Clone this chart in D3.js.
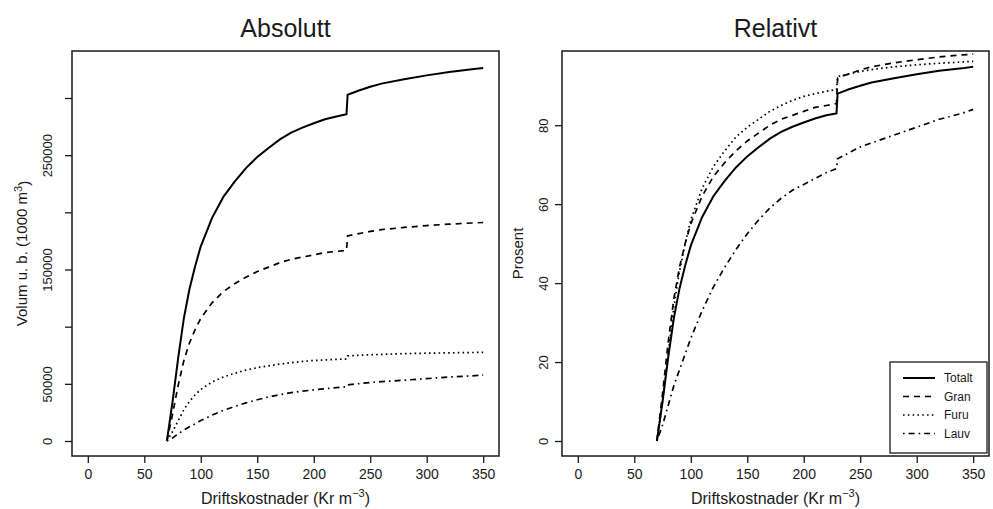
<!DOCTYPE html>
<html>
<head>
<meta charset="utf-8">
<script src="https://cdn.jsdelivr.net/npm/d3@7"></script>
<style>
  body { margin: 0; background: #fff; }
  text { font-family: "Liberation Sans", Arial, sans-serif; fill: #1a1a1a; }
</style>
</head>
<body>
<div id="chart"></div>
<script>
var costs = [70, 75, 80, 85, 90, 95, 100, 110, 120, 130, 140, 150, 160, 170, 180,
  190, 200, 210, 220, 229, 230, 240, 250, 260, 280, 300, 320, 340, 350];

// Absolute volume (1000 m3)
var totaltAbs = [0, 34200, 72700, 107200, 132900, 152900, 170300, 195200, 213500, 226900,
  238700, 248400, 256300, 263800, 269700, 274100, 277900, 281400, 283900, 285800,
  302900, 306600, 309900, 312600, 316400, 319800, 322800, 325100, 326300];
var granAbs = [0, 23400, 48800, 70200, 85800, 97500, 107300, 120900, 130700, 137500,
  143300, 148200, 152100, 156000, 158900, 160900, 162800, 164800, 165800, 166700,
  179400, 181400, 183300, 184900, 186800, 188400, 189700, 190700, 191100];
var furuAbs = [0, 8100, 17700, 27400, 34700, 40300, 45100, 51600, 56000, 59200,
  62100, 64100, 65700, 67300, 68500, 69600, 70400, 70900, 71400, 71700,
  74400, 75000, 75400, 75800, 76400, 76800, 77100, 77400, 77500];
var lauvAbs = [0, 2700, 6200, 9600, 12400, 15100, 17900, 22700, 26800, 30200,
  33300, 36100, 38500, 40500, 42300, 43600, 44700, 45700, 46700, 47400,
  49100, 50200, 51200, 51900, 53200, 54600, 56000, 57000, 57700];

// Relative volume (percent)
var totaltPct = [0, 9.9, 21.1, 31.1, 38.6, 44.4, 49.5, 56.7, 62.0, 65.9, 69.3, 72.1, 74.4,
  76.6, 78.3, 79.6, 80.7, 81.7, 82.5, 83.0, 88.0, 89.1, 90.0, 90.8, 91.9, 92.9, 93.8, 94.4, 94.8];
var granPct = [0, 12, 25, 36, 44, 50, 55, 62, 67, 70.5, 73.5, 76, 78, 80, 81.5, 82.5,
  83.5, 84.5, 85, 85.5, 92, 93, 94, 94.8, 95.8, 96.6, 97.3, 97.8, 98];
var furuPct = [0, 10, 22, 34, 43, 50, 56, 64, 69.5, 73.5, 77, 79.5, 81.5, 83.5, 85, 86.3,
  87.3, 88, 88.6, 89, 92.3, 93, 93.6, 94.1, 94.8, 95.3, 95.7, 96, 96.2];
var lauvPct = [0, 4, 9, 14, 18, 22, 26, 33, 39, 44, 48.5, 52.5, 56, 59, 61.5, 63.5,
  65, 66.5, 68, 69, 71.5, 73, 74.5, 75.5, 77.5, 79.5, 81.5, 83, 84];

var seriesNames = ["Totalt", "Gran", "Furu", "Lauv"];
var xTicks = [0, 50, 100, 150, 200, 250, 300, 350];
var yTicksAbs = [0, 50000, 100000, 150000, 200000, 250000, 300000];
var yLabelsAbs = [0, 50000, 150000, 250000];
var yTicksPct = [0, 20, 40, 60, 80];

// Line styles (R lty 1..4)
var dashes = [null, "6,5", "1.6,3.2", "1.6,4,6,4"];
var widths = [2, 1.7, 1.7, 1.7];

var svgWidth = 993;
var svgHeight = 509;

var svg = d3.select("#chart")
  .append("svg")
  .attr("width", svgWidth)
  .attr("height", svgHeight);

function drawPanel(p) {
  var x = d3.scaleLinear().domain([-14, 364]).range([p.left, p.right]);
  var y = d3.scaleLinear().domain(p.yDomain).range([456, 51]);

  var clipId = "clip-" + p.id;
  svg.append("clipPath").attr("id", clipId)
    .append("rect")
    .attr("x", p.left).attr("y", 51)
    .attr("width", p.right - p.left).attr("height", 405);

  // lines
  var line = d3.line()
    .x(function(d, i) { return x(costs[i]); })
    .y(function(d) { return y(d); });

  p.series.forEach(function(vals, k) {
    svg.append("path")
      .datum(vals)
      .attr("d", line)
      .attr("clip-path", "url(#" + clipId + ")")
      .attr("fill", "none")
      .attr("stroke", "#000")
      .attr("stroke-width", widths[k])
      .attr("stroke-dasharray", dashes[k]);
  });

  // frame
  svg.append("rect")
    .attr("x", p.left).attr("y", 51)
    .attr("width", p.right - p.left).attr("height", 405)
    .attr("fill", "none")
    .attr("stroke", "#1a1a1a")
    .attr("stroke-width", 1.5);

  // x axis
  var xAxis = svg.append("g")
    .attr("transform", "translate(0,456)")
    .call(d3.axisBottom(x).tickValues(xTicks).tickSize(7).tickSizeOuter(0).tickPadding(6));
  xAxis.select(".domain").remove();
  xAxis.selectAll("line").attr("stroke", "#1a1a1a").attr("stroke-width", 1.3);
  xAxis.selectAll("text").attr("font-size", 14).style("font-family", "Liberation Sans, Arial, sans-serif").attr("fill", "#1a1a1a");

  // y axis, labels parallel to the axis
  var yAxis = svg.append("g")
    .attr("transform", "translate(" + p.left + ",0)")
    .call(d3.axisLeft(y).tickValues(p.yTicks).tickSize(7).tickSizeOuter(0)
      .tickFormat(function(d) { return p.yLabels.indexOf(d) >= 0 ? String(d) : ""; }));
  yAxis.select(".domain").remove();
  yAxis.selectAll("line").attr("stroke", "#1a1a1a").attr("stroke-width", 1.3);
  yAxis.selectAll("text")
    .attr("x", null).attr("dy", "0.35em")
    .attr("text-anchor", "middle")
    .attr("transform", "translate(" + p.yLabelOffset + ",0) rotate(-90)")
    .attr("font-size", 13)
    .style("font-family", "Liberation Sans, Arial, sans-serif")
    .attr("fill", "#1a1a1a");

  var cx = (p.left + p.right) / 2;

  // title
  svg.append("text")
    .attr("x", cx).attr("y", 37)
    .attr("text-anchor", "middle")
    .attr("font-size", 25)
    .text(p.title);

  // x label
  var xl = svg.append("text")
    .attr("x", cx).attr("y", 504)
    .attr("text-anchor", "middle")
    .attr("font-size", 16);
  xl.append("tspan").text("Driftskostnader (Kr m");
  xl.append("tspan").attr("dy", -7).attr("font-size", 11).text("\u22123");
  xl.append("tspan").attr("dy", 7).text(")");

  // y label
  var yl = svg.append("text")
    .attr("transform", "translate(" + p.yTitleX + ",253.5) rotate(-90)")
    .attr("dy", "0.35em")
    .attr("text-anchor", "middle")
    .attr("font-size", 15);
  yl.append("tspan").text(p.yTitle);
  if (p.yTitleSup) {
    yl.append("tspan").attr("dy", "-0.45em").attr("font-size", 11).text(p.yTitleSup);
    yl.append("tspan").attr("dy", "0.45em").text(")");
  }
}

drawPanel({
  id: "abs", left: 72, right: 499,
  yDomain: [-13120, 341120],
  yTicks: yTicksAbs, yLabels: yLabelsAbs, yLabelOffset: -25,
  series: [totaltAbs, granAbs, furuAbs, lauvAbs],
  title: "Absolutt",
  yTitle: "Volum u. b. (1000 m", yTitleSup: "3", yTitleX: 22
});

drawPanel({
  id: "rel", left: 562, right: 989,
  yDomain: [-3.8, 98.8],
  yTicks: yTicksPct, yLabels: yTicksPct, yLabelOffset: -19,
  series: [totaltPct, granPct, furuPct, lauvPct],
  title: "Relativt",
  yTitle: "Prosent", yTitleSup: null, yTitleX: 518
});

// Legend in the lower right corner of the relative panel
var legend = svg.append("g");
legend.append("rect")
  .attr("x", 890).attr("y", 362)
  .attr("width", 97).attr("height", 91)
  .attr("fill", "#fff")
  .attr("stroke", "#1a1a1a")
  .attr("stroke-width", 1.3);

seriesNames.forEach(function(name, k) {
  var ly = 378 + k * 18.5;
  legend.append("line")
    .attr("x1", 903).attr("x2", 935)
    .attr("y1", ly).attr("y2", ly)
    .attr("stroke", "#000")
    .attr("stroke-width", widths[k])
    .attr("stroke-dasharray", dashes[k]);
  legend.append("text")
    .attr("x", 944).attr("y", ly)
    .attr("dy", "0.35em")
    .attr("font-size", 12)
    .text(name);
});
</script>
</body>
</html>
